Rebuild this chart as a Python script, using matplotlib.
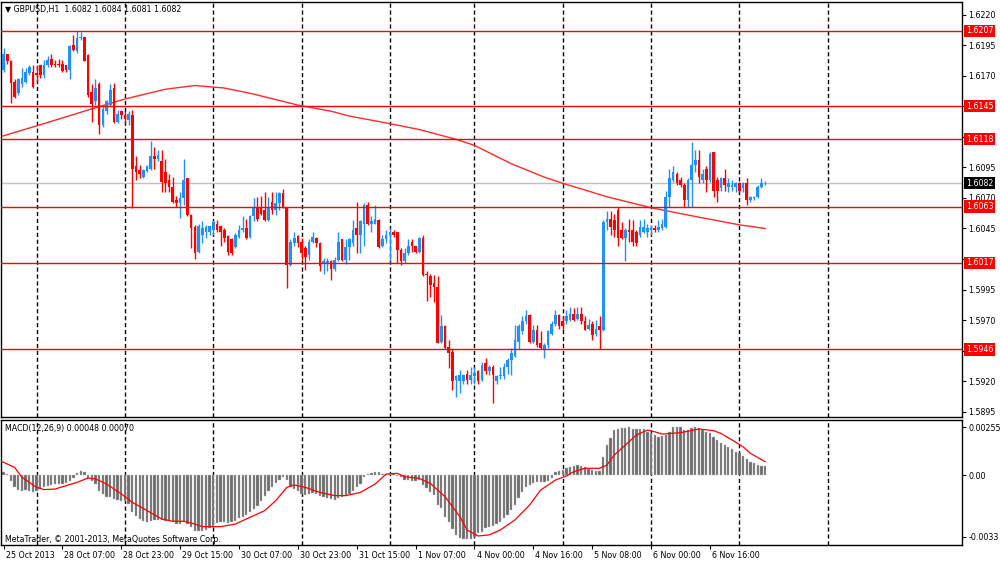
import numpy as np
import matplotlib
matplotlib.use('Agg')
import matplotlib.pyplot as plt
import matplotlib.transforms as mtransforms

# GBPUSD H1, 25 Oct 2013 15:00 .. 7 Nov 2013 07:00 (bar index 0..207)
opens = [
    1.6175, 1.6188, 1.6182, 1.6165, 1.6156, 1.6163, 1.6165, 1.6172, 1.6173, 1.6172,
    1.6179, 1.6171, 1.6179, 1.6184, 1.6180, 1.6180, 1.6180, 1.6179, 1.6175, 1.6195,
    1.6190, 1.6201, 1.6202, 1.6187, 1.6157, 1.6149, 1.6163, 1.6130, 1.6141, 1.6146,
    1.6160, 1.6132, 1.6141, 1.6138, 1.6134, 1.6138, 1.6096, 1.6093, 1.6087, 1.6092,
    1.6094, 1.6104, 1.6102, 1.6100, 1.6091, 1.6085, 1.6079, 1.6068, 1.6066, 1.6070,
    1.6086, 1.6056, 1.6046, 1.6026, 1.6040, 1.6042, 1.6042, 1.6044, 1.6049, 1.6047,
    1.6044, 1.6039, 1.6036, 1.6030, 1.6038, 1.6044, 1.6045, 1.6038, 1.6055, 1.6063,
    1.6062, 1.6060, 1.6052, 1.6067, 1.6060, 1.6066, 1.6074, 1.6063, 1.6015, 1.6033,
    1.6039, 1.6034, 1.6029, 1.6023, 1.6034, 1.6037, 1.6033, 1.6016, 1.6017, 1.6018,
    1.6012, 1.6019, 1.6036, 1.6019, 1.6030, 1.6033, 1.6045, 1.6040, 1.6049, 1.6064,
    1.6049, 1.6049, 1.6052, 1.6031, 1.6036, 1.6040, 1.6042, 1.6042, 1.6027, 1.6018,
    1.6025, 1.6034, 1.6031, 1.6026, 1.6037, 1.6008, 1.6006, 1.6000, 1.5997, 1.5952,
    1.5965, 1.5948, 1.5944, 1.5921, 1.5920, 1.5920, 1.5926, 1.5921, 1.5924, 1.5928,
    1.5921, 1.5935, 1.5928, 1.5932, 1.5920, 1.5924, 1.5924, 1.5932, 1.5937, 1.5941,
    1.5952, 1.5961, 1.5969, 1.5974, 1.5952, 1.5962, 1.5951, 1.5946, 1.5950, 1.5959,
    1.5967, 1.5974, 1.5969, 1.5969, 1.5970, 1.5975, 1.5971, 1.5975, 1.5969, 1.5963,
    1.5967, 1.5959, 1.5965, 1.5962, 1.6050, 1.6053, 1.6052, 1.6060, 1.6044, 1.6037,
    1.6044, 1.6044, 1.6042, 1.6040, 1.6042, 1.6042, 1.6044, 1.6045, 1.6044, 1.6045,
    1.6046, 1.6071, 1.6085, 1.6090, 1.6085, 1.6081, 1.6068, 1.6085, 1.6097, 1.6101,
    1.6085, 1.6094, 1.6085, 1.6108, 1.6085, 1.6078, 1.6086, 1.6079, 1.6079, 1.6079,
    1.6082, 1.6078, 1.6082, 1.6068, 1.6070, 1.6071, 1.6079, 1.6082,
]
highs = [
    1.6193, 1.6188, 1.6183, 1.6167, 1.6168, 1.6176, 1.6176, 1.6179, 1.6179, 1.6179,
    1.6179, 1.6183, 1.6186, 1.6188, 1.6183, 1.6184, 1.6183, 1.6179, 1.6195, 1.6203,
    1.6207, 1.6206, 1.6202, 1.6188, 1.6163, 1.6167, 1.6165, 1.6146, 1.6150, 1.6163,
    1.6164, 1.6142, 1.6142, 1.6141, 1.6141, 1.6142, 1.6104, 1.6097, 1.6094, 1.6097,
    1.6117, 1.6112, 1.6109, 1.6109, 1.6102, 1.6090, 1.6087, 1.6072, 1.6075, 1.6102,
    1.6086, 1.6057, 1.6048, 1.6049, 1.6051, 1.6048, 1.6047, 1.6052, 1.6052, 1.6048,
    1.6045, 1.6040, 1.6037, 1.6041, 1.6048, 1.6055, 1.6053, 1.6056, 1.6070, 1.6071,
    1.6072, 1.6075, 1.6071, 1.6075, 1.6075, 1.6075, 1.6077, 1.6063, 1.6036, 1.6042,
    1.6040, 1.6037, 1.6031, 1.6036, 1.6042, 1.6038, 1.6034, 1.6021, 1.6021, 1.6019,
    1.6022, 1.6042, 1.6036, 1.6036, 1.6037, 1.6052, 1.6067, 1.6052, 1.6066, 1.6067,
    1.6055, 1.6064, 1.6053, 1.6040, 1.6044, 1.6045, 1.6044, 1.6042, 1.6029, 1.6029,
    1.6036, 1.6036, 1.6031, 1.6038, 1.6040, 1.6010, 1.6008, 1.6007, 1.6006, 1.5974,
    1.5966, 1.5954, 1.5946, 1.5925, 1.5929, 1.5926, 1.5929, 1.5932, 1.5932, 1.5929,
    1.5936, 1.5939, 1.5933, 1.5933, 1.5925, 1.5932, 1.5935, 1.5939, 1.5947, 1.5966,
    1.5967, 1.5973, 1.5978, 1.5975, 1.5966, 1.5966, 1.5961, 1.5951, 1.5962, 1.5969,
    1.5978, 1.5975, 1.5973, 1.5978, 1.5981, 1.5980, 1.5981, 1.5981, 1.5973, 1.5971,
    1.5969, 1.5970, 1.5973, 1.6052, 1.6059, 1.6059, 1.6057, 1.6063, 1.6050, 1.6045,
    1.6053, 1.6052, 1.6044, 1.6052, 1.6053, 1.6049, 1.6048, 1.6048, 1.6052, 1.6053,
    1.6076, 1.6094, 1.6096, 1.6091, 1.6087, 1.6082, 1.6086, 1.6116, 1.6109, 1.6109,
    1.6094, 1.6096, 1.6108, 1.6108, 1.6087, 1.6087, 1.6094, 1.6086, 1.6085, 1.6083,
    1.6083, 1.6083, 1.6086, 1.6072, 1.6072, 1.6081, 1.6086, 1.6084,
]
lows = [
    1.6173, 1.6180, 1.6148, 1.6152, 1.6154, 1.6161, 1.6164, 1.6171, 1.6160, 1.6165,
    1.6168, 1.6168, 1.6177, 1.6177, 1.6177, 1.6177, 1.6173, 1.6173, 1.6167, 1.6190,
    1.6189, 1.6199, 1.6182, 1.6153, 1.6132, 1.6146, 1.6122, 1.6128, 1.6139, 1.6145,
    1.6131, 1.6131, 1.6135, 1.6131, 1.6130, 1.6062, 1.6085, 1.6086, 1.6086, 1.6091,
    1.6093, 1.6094, 1.6100, 1.6075, 1.6075, 1.6075, 1.6066, 1.6063, 1.6054, 1.6064,
    1.6055, 1.6029, 1.6020, 1.6025, 1.6033, 1.6037, 1.6040, 1.6040, 1.6042, 1.6031,
    1.6034, 1.6023, 1.6023, 1.6029, 1.6037, 1.6042, 1.6036, 1.6037, 1.6051, 1.6051,
    1.6056, 1.6051, 1.6051, 1.6057, 1.6056, 1.6060, 1.6062, 1.5996, 1.6014, 1.6031,
    1.6030, 1.6019, 1.6011, 1.6019, 1.6033, 1.6030, 1.6010, 1.6008, 1.6010, 1.6003,
    1.6010, 1.6018, 1.6018, 1.6016, 1.6019, 1.6031, 1.6025, 1.6025, 1.6031, 1.6048,
    1.6042, 1.6049, 1.6029, 1.6030, 1.6033, 1.6018, 1.6038, 1.6017, 1.6015, 1.6017,
    1.6023, 1.6026, 1.6025, 1.6025, 1.6006, 1.5986, 1.5989, 1.5985, 1.5951, 1.5951,
    1.5946, 1.5931, 1.5913, 1.5907, 1.5910, 1.5918, 1.5918, 1.5918, 1.5918, 1.5918,
    1.5920, 1.5926, 1.5925, 1.5902, 1.5918, 1.5922, 1.5922, 1.5926, 1.5925, 1.5940,
    1.5946, 1.5959, 1.5967, 1.5951, 1.5951, 1.5948, 1.5946, 1.5939, 1.5947, 1.5958,
    1.5965, 1.5963, 1.5962, 1.5967, 1.5969, 1.5969, 1.5970, 1.5967, 1.5962, 1.5962,
    1.5954, 1.5957, 1.5946, 1.5961, 1.6044, 1.6040, 1.6038, 1.6031, 1.6036, 1.6018,
    1.6034, 1.6031, 1.6031, 1.6038, 1.6041, 1.6038, 1.6040, 1.6042, 1.6042, 1.6044,
    1.6045, 1.6063, 1.6083, 1.6081, 1.6079, 1.6063, 1.6063, 1.6063, 1.6091, 1.6082,
    1.6082, 1.6075, 1.6083, 1.6071, 1.6067, 1.6076, 1.6076, 1.6075, 1.6076, 1.6075,
    1.6075, 1.6075, 1.6064, 1.6067, 1.6068, 1.6070, 1.6078, 1.6081,
]
closes = [
    1.6188, 1.6182, 1.6164, 1.6153, 1.6167, 1.6168, 1.6173, 1.6177, 1.6161, 1.6171,
    1.6171, 1.6179, 1.6183, 1.6179, 1.6179, 1.6179, 1.6174, 1.6175, 1.6194, 1.6191,
    1.6201, 1.6202, 1.6182, 1.6154, 1.6147, 1.6160, 1.6130, 1.6143, 1.6149, 1.6158,
    1.6132, 1.6139, 1.6138, 1.6135, 1.6139, 1.6094, 1.6091, 1.6090, 1.6093, 1.6096,
    1.6104, 1.6102, 1.6105, 1.6083, 1.6082, 1.6079, 1.6067, 1.6066, 1.6070, 1.6085,
    1.6056, 1.6045, 1.6025, 1.6047, 1.6045, 1.6046, 1.6047, 1.6050, 1.6044, 1.6042,
    1.6037, 1.6026, 1.6025, 1.6040, 1.6044, 1.6045, 1.6037, 1.6055, 1.6062, 1.6053,
    1.6057, 1.6052, 1.6063, 1.6060, 1.6066, 1.6074, 1.6063, 1.6015, 1.6034, 1.6037,
    1.6033, 1.6025, 1.6022, 1.6034, 1.6038, 1.6033, 1.6014, 1.6018, 1.6018, 1.6012,
    1.6019, 1.6034, 1.6019, 1.6030, 1.6036, 1.6044, 1.6040, 1.6051, 1.6064, 1.6049,
    1.6051, 1.6053, 1.6030, 1.6036, 1.6040, 1.6042, 1.6040, 1.6027, 1.6018, 1.6025,
    1.6031, 1.6031, 1.6026, 1.6037, 1.6007, 1.6007, 1.5999, 1.5997, 1.5951, 1.5965,
    1.5947, 1.5943, 1.5920, 1.5924, 1.5925, 1.5925, 1.5921, 1.5925, 1.5927, 1.5920,
    1.5933, 1.5928, 1.5932, 1.5925, 1.5924, 1.5925, 1.5932, 1.5937, 1.5943, 1.5954,
    1.5965, 1.5969, 1.5973, 1.5952, 1.5962, 1.5950, 1.5947, 1.5950, 1.5961, 1.5967,
    1.5974, 1.5965, 1.5965, 1.5973, 1.5975, 1.5970, 1.5975, 1.5969, 1.5962, 1.5966,
    1.5958, 1.5963, 1.5962, 1.6050, 1.6053, 1.6046, 1.6044, 1.6037, 1.6037, 1.6044,
    1.6042, 1.6034, 1.6033, 1.6046, 1.6046, 1.6045, 1.6045, 1.6044, 1.6046, 1.6049,
    1.6071, 1.6086, 1.6091, 1.6082, 1.6081, 1.6068, 1.6085, 1.6097, 1.6101, 1.6087,
    1.6090, 1.6085, 1.6106, 1.6076, 1.6076, 1.6086, 1.6081, 1.6082, 1.6081, 1.6082,
    1.6076, 1.6082, 1.6068, 1.6071, 1.6071, 1.6079, 1.6082, 1.6082,
]

# moving average at a few bars
ma_idx = [-1, 9, 23, 33, 44, 52, 60, 68, 80, 89, 94, 103, 113, 123, 128,
          138, 147, 152, 164, 176, 186, 200, 207]
ma_val = [1.6120, 1.6129, 1.6142, 1.6151, 1.6159, 1.6162, 1.6160, 1.6155, 1.6146,
          1.6141, 1.6137, 1.6132, 1.6126, 1.6118, 1.6113, 1.6098, 1.6087, 1.6082,
          1.6071, 1.6062, 1.6056, 1.6048, 1.6045]

levels = [1.6207, 1.6145, 1.6118, 1.6063, 1.6017, 1.5946]
last_price = 1.6082
price_ticks = [1.6220, 1.6195, 1.6170, 1.6145, 1.6120, 1.6095, 1.6070,
               1.6045, 1.6020, 1.5995, 1.5970, 1.5945, 1.5920, 1.5895]
hidden_ticks = [1.6145, 1.6120, 1.6020, 1.5945]   # sit under the line labels

# MACD(12,26,9) main (histogram) per bar
macd = [
    0.00014, 0.00005, -0.0003, -0.00066, -0.0008, -0.00084, -0.0008, -0.00084, -0.00089, -0.00084,
    -0.00077, -0.00066, -0.00059, -0.00053, -0.0005, -0.00048, -0.0005, -0.00045, -0.0003, -0.00016,
    0.00011, 0.00023, 0.00014, -0.00016, -0.00034, -0.00048, -0.00084, -0.001, -0.00116, -0.0012,
    -0.00128, -0.00134, -0.00137, -0.0014, -0.00155, -0.002, -0.00217, -0.00235, -0.00247, -0.0025,
    -0.00244, -0.0024, -0.00239, -0.00239, -0.00244, -0.00244, -0.00253, -0.00262, -0.00262, -0.00253,
    -0.00262, -0.00276, -0.00297, -0.003, -0.00297, -0.00294, -0.00283, -0.0027, -0.00258, -0.00253,
    -0.00253, -0.00254, -0.0025, -0.00244, -0.0023, -0.00223, -0.00212, -0.002, -0.00182, -0.00164,
    -0.00137, -0.0011, -0.00084, -0.00066, -0.00045, -0.00027, -0.00012, -0.00027, -0.00066, -0.00075,
    -0.00084, -0.001, -0.00107, -0.001, -0.00098, -0.001, -0.00114, -0.0012, -0.00125, -0.00128,
    -0.00134, -0.00123, -0.0012, -0.0011, -0.001, -0.00084, -0.00066, -0.00048, -0.00012, 0.00005,
    0.00012, 0.00018, 0.00014, 0.00005, 0.00005, 0.00003, 0.00009, -0.00005, -0.00012, -0.00027,
    -0.00027, -0.0003, -0.0003, -0.00027, -0.00053, -0.00071, -0.00089, -0.00107, -0.0016, -0.00178,
    -0.00222, -0.00249, -0.0029, -0.0032, -0.00338, -0.00344, -0.00344, -0.0034, -0.00333, -0.00311,
    -0.00303, -0.00285, -0.00276, -0.00272, -0.00262, -0.00249, -0.00231, -0.00214, -0.00187, -0.0016,
    -0.00125, -0.00089, -0.00062, -0.00053, -0.00045, -0.00037, -0.00036, -0.00036, -0.0003, -0.00018,
    0.00018, 0.00023, 0.00027, 0.00036, 0.00045, 0.0005, 0.00053, 0.0005, 0.00041, 0.0003,
    0.00027, 0.00023, 0.00023, 0.00098, 0.0016, 0.00196, 0.0024, 0.00246, 0.00249, 0.00253,
    0.00255, 0.00244, 0.00244, 0.00244, 0.00244, 0.00231, 0.00222, 0.00214, 0.00205, 0.00208,
    0.00214, 0.00231, 0.00255, 0.00255, 0.00255, 0.0024, 0.0024, 0.00249, 0.00255, 0.00249,
    0.0024, 0.00231, 0.00226, 0.00205, 0.00187, 0.00173, 0.0016, 0.00151, 0.00137, 0.00125,
    0.00116, 0.00101, 0.00084, 0.00071, 0.00062, 0.00053, 0.0005, 0.00048,
]
# signal line read at a few bars
sig_idx = [-1, 3, 5, 9, 11, 14, 17, 20, 23, 25, 28, 32, 35, 39, 43, 46, 49, 52, 54, 59,
           63, 66, 71, 74, 77, 79, 82, 86, 90, 93, 97, 101, 104, 107, 109, 113, 116, 120,
           124, 126, 129, 132, 135, 139, 143, 146, 150, 153, 155, 158, 162, 164, 166, 169,
           172, 175, 177, 179, 181, 184, 189, 193, 195, 198, 201, 203, 207]
sig_val = [0.00077, 0.00041, -0.00012, -0.00066, -0.00078, -0.00075, -0.00057, -0.00039,
           -0.00016, -0.00021, -0.00048, -0.00101, -0.00146, -0.0019, -0.00235, -0.00247,
           -0.00247, -0.00262, -0.00276, -0.00276, -0.00262, -0.00235, -0.0019, -0.00137,
           -0.00066, -0.00053, -0.00066, -0.00093, -0.0011, -0.0011, -0.00093, -0.00048,
           0.00005, 0.00009, -0.00009, -0.00018, -0.00045, -0.00116, -0.00222, -0.00294,
           -0.00326, -0.0032, -0.00294, -0.0024, -0.0016, -0.0008, -0.00027, -0.00005,
           0.00018, 0.00036, 0.00036, 0.00053, 0.00107, 0.0016, 0.00214, 0.0024, 0.00231,
           0.00219, 0.00222, 0.00226, 0.00246, 0.00237, 0.00222, 0.00187, 0.00151, 0.00116,
           0.00071]

separators = [9, 33, 57, 81, 105, 128, 152, 176, 200, 224]
date_pos = [0, 16, 32, 48, 64, 80, 96, 112, 128, 144, 160, 176, 192]
date_labels = ['25 Oct 2013', '28 Oct 07:00', '28 Oct 23:00', '29 Oct 15:00',
               '30 Oct 07:00', '30 Oct 23:00', '31 Oct 15:00', '1 Nov 07:00',
               '4 Nov 00:00', '4 Nov 16:00', '5 Nov 08:00', '6 Nov 00:00', '6 Nov 16:00']

plt.rcParams['font.family'] = ['DejaVu Sans']
FS = 5.7
BULL = '#1e90ff'
BEAR = '#ff0000'

o = np.array(opens)
h = np.array(highs)
l = np.array(lows)
c = np.array(closes)
x = np.arange(len(c))

fig = plt.figure(figsize=(10, 5.62), dpi=100)
fig.patch.set_facecolor('white')
ax = fig.add_axes([0.001, 0.25801, 0.961, 0.73843])
ax2 = fig.add_axes([0.001, 0.03025, 0.961, 0.22242])

# price panel
cols = np.where(c >= o, BULL, BEAR)
ax.vlines(x, l, h, colors=cols, lw=1, zorder=3)
body_lo = np.minimum(o, c)
body_h = np.maximum(np.abs(c - o), 0.00006)
ax.bar(x, body_h, 0.72, bottom=body_lo, color=cols, lw=0, zorder=3)

ax.plot(ma_idx, ma_val, color='#ff2a2a', lw=1, zorder=2)
for lv in levels:
    ax.axhline(lv, color='#ff0000', lw=1, zorder=4)
ax.axhline(last_price, color='#c0c0c0', lw=1, zorder=1)

for s in separators:
    ax.axvline(s, color='black', lw=1, ls=(0, (3, 2)), zorder=1)
    ax2.axvline(s, color='black', lw=1, ls=(0, (3, 2)), zorder=1)

ax.set_xlim(-0.68, 260.5)
ax.set_ylim(1.58907, 1.62304)
ax.set_xticks([])
ax.yaxis.tick_right()
ax.set_yticks(price_ticks)
ax.set_yticklabels(['' if t in hidden_ticks else '%.4f' % t for t in price_ticks])
ax.tick_params(axis='y', length=3, width=0.8, pad=1.5, labelsize=FS, colors='black')

tr = mtransforms.blended_transform_factory(ax.transAxes, ax.transData)
for lv in levels:
    ax.text(1.0042, lv, '%.4f' % lv, transform=tr, color='white', fontsize=FS,
            va='center', ha='left', clip_on=False, zorder=6,
            bbox=dict(boxstyle='square,pad=0.2', fc='#ff0000', ec='none'))
ax.text(1.0042, last_price, '%.4f' % last_price, transform=tr, color='white', fontsize=FS,
        va='center', ha='left', clip_on=False, zorder=6,
        bbox=dict(boxstyle='square,pad=0.2', fc='black', ec='none'))

ax.text(0.004, 0.983, '\u25bc GBPUSD,H1  1.6082 1.6084 1.6081 1.6082', transform=ax.transAxes,
        fontsize=FS, va='center', ha='left', color='black')

# MACD panel
ax2.bar(x, macd, 0.62, color='#6a6a6a', edgecolor='#bdbdbd', lw=0.3, zorder=2)
ax2.plot(sig_idx, sig_val, color='#ff0000', lw=0.9, zorder=3)
ax2.set_xlim(-0.68, 260.5)
ax2.set_ylim(-0.00374, 0.00294)
ax2.yaxis.tick_right()
ax2.set_yticks([0.00255, 0.0, -0.0033])
ax2.set_yticklabels(['0.00255', '0.00', '-0.0033'])
ax2.tick_params(axis='y', length=3, width=0.8, pad=1.5, labelsize=FS)
ax2.set_xticks(date_pos)
ax2.set_xticklabels(date_labels)
ax2.tick_params(axis='x', length=3, width=0.8, pad=1.5, labelsize=FS)
shift = mtransforms.ScaledTranslation(1.5 / 72, 0, fig.dpi_scale_trans)
for lab in ax2.get_xticklabels():
    lab.set_ha('left')
    lab.set_transform(lab.get_transform() + shift)

ax2.text(0.004, 0.935, 'MACD(12,26,9) 0.00048 0.00070', transform=ax2.transAxes,
         fontsize=FS, va='center', ha='left')
ax2.text(0.004, 0.045, 'MetaTrader, \u00a9 2001-2013, MetaQuotes Software Corp.',
         transform=ax2.transAxes, fontsize=FS, va='center', ha='left')

for a in (ax, ax2):
    for sp in a.spines.values():
        sp.set_color('black')
        sp.set_linewidth(1)

fig.savefig('out.png', dpi=100, facecolor='white')
